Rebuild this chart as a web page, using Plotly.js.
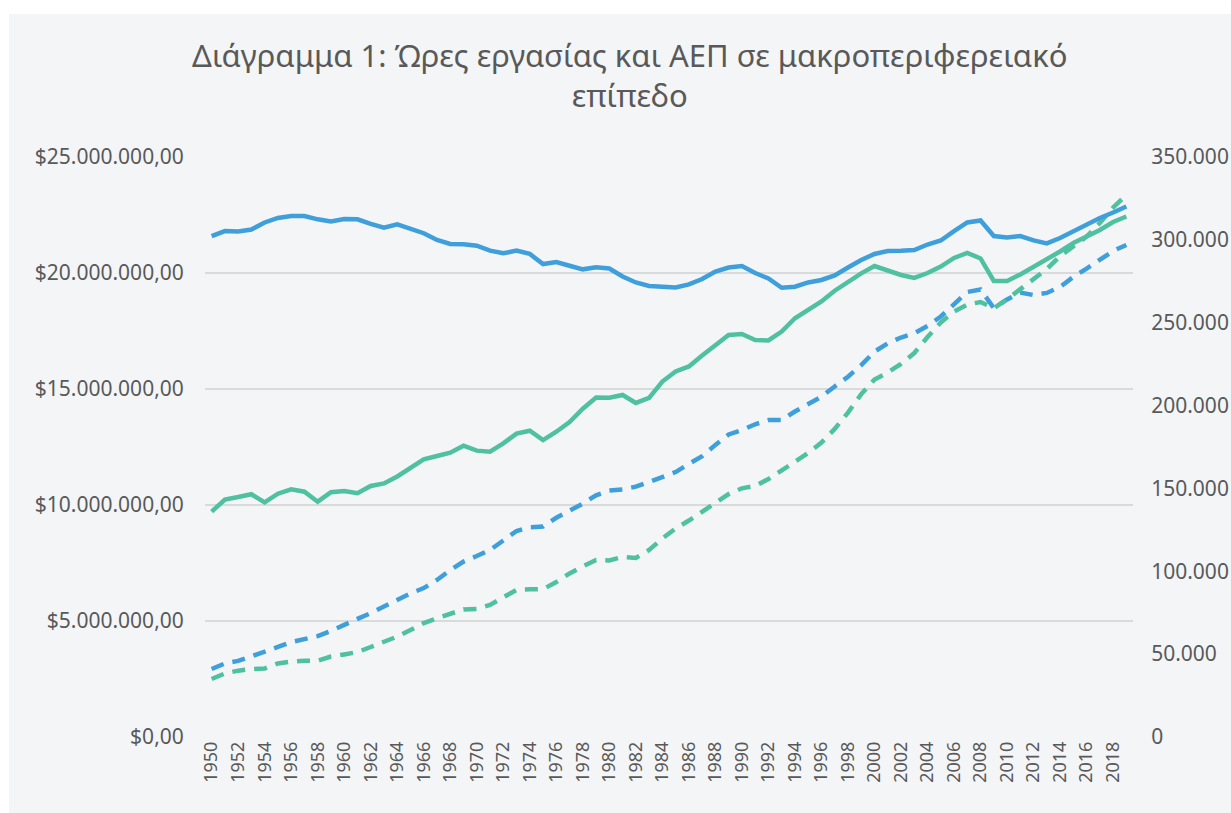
<!DOCTYPE html>
<html>
<head>
<meta charset="utf-8">
<script src="https://cdn.plot.ly/plotly-3.0.1.min.js"></script>
<style>
  html, body { margin: 0; padding: 0; background: #ffffff; }
  #chart { position: absolute; left: 9px; top: 14px; width: 1222px; height: 799px; }
</style>
</head>
<body>
<div id="chart"></div>
<script>
const years = [];
for (let y = 1950; y <= 2019; y++) years.push(String(y));

const tickYears = ["1950","1952","1954","1956","1958","1960","1962","1964","1966","1968",
  "1970","1972","1974","1976","1978","1980","1982","1984","1986","1988","1990","1992",
  "1994","1996","1998","2000","2002","2004","2006","2008","2010","2012","2014","2016","2018"];

// Solid lines (right axis)
const hoursBlue = [302300,305300,305000,306250,310500,313200,314400,314400,312400,311100,
  312600,312400,309600,307300,309400,306600,304000,299900,297500,297300,
  296500,293500,291900,293500,291500,285400,286600,284400,282200,283400,
  282700,277900,274300,272200,271400,271250,273100,276400,280900,283300,
  284200,280000,276700,271100,271700,274300,275800,278500,283300,287800,
  291500,293300,293500,293900,297200,299600,305300,310500,311700,302300,
  301500,302300,299700,297900,301100,305200,309100,313200,316500,320100];

const hoursGreen = [136000,143300,144800,146500,141600,146800,149500,148000,142000,147700,
  148400,147100,151500,153000,157200,162300,167500,169600,171600,175800,
  172800,172200,177200,183100,184800,179200,184200,190100,198100,204900,
  204700,206400,201600,204600,214500,220600,223600,230200,236700,242600,
  243200,239600,239300,244700,252700,257700,262800,269300,274800,279800,
  284200,281200,278800,277000,280000,283900,289100,292100,288800,275200,
  275200,279100,283600,287800,293000,298100,302000,306000,310800,314100];

// Dashed lines (left axis, $)
const gdpBlue = [2930000,3170000,3280000,3470000,3660000,3880000,4090000,4210000,4350000,4570000,
  4850000,5090000,5340000,5625000,5930000,6190000,6420000,6770000,7200000,7560000,
  7800000,8060000,8470000,8880000,9040000,9070000,9450000,9740000,10060000,10420000,
  10620000,10670000,10790000,10990000,11230000,11420000,11770000,12100000,12590000,13040000,
  13230000,13480000,13660000,13660000,14030000,14375000,14670000,15110000,15530000,16030000,
  16610000,16970000,17220000,17400000,17720000,18125000,18660000,19180000,19290000,18490000,
  18860000,19160000,19050000,19140000,19400000,19830000,20190000,20580000,20950000,21210000];

const gdpGreen = [2500000,2740000,2860000,2930000,2950000,3170000,3250000,3290000,3280000,3470000,
  3560000,3660000,3880000,4090000,4330000,4610000,4910000,5120000,5300000,5500000,
  5520000,5690000,6020000,6340000,6370000,6370000,6680000,7050000,7360000,7630000,
  7610000,7760000,7720000,8060000,8560000,8990000,9330000,9700000,10110000,10470000,
  10720000,10820000,11120000,11510000,11880000,12240000,12690000,13280000,13980000,14780000,
  15410000,15710000,16080000,16550000,17240000,17870000,18340000,18640000,18750000,18480000,
  18870000,19300000,19720000,20170000,20730000,21160000,21570000,22160000,22820000,23360000];

const BLUE = '#3f9fdb';
const GREEN = '#4fc1a0';
const TXT = '#595959';
const FONT = 'Noto Sans, DejaVu Sans, sans-serif';

const traces = [
  {x: years, y: hoursBlue, yaxis: 'y2', type: 'scatter', mode: 'lines',
   line: {color: BLUE, width: 4.5}, name: 'Ώρες 1'},
  {x: years, y: hoursGreen, yaxis: 'y2', type: 'scatter', mode: 'lines',
   line: {color: GREEN, width: 4.5}, name: 'Ώρες 2'},
  {x: years, y: gdpBlue, yaxis: 'y', type: 'scatter', mode: 'lines',
   line: {color: BLUE, width: 4.5, dash: '13px,9px'}, name: 'ΑΕΠ 1'},
  {x: years, y: gdpGreen, yaxis: 'y', type: 'scatter', mode: 'lines',
   line: {color: GREEN, width: 4.5, dash: '13px,9px'}, name: 'ΑΕΠ 2'}
];

const layout = {
  width: 1222, height: 799,
  paper_bgcolor: '#f3f5f7',
  plot_bgcolor: '#f3f5f7',
  separators: ',.',
  showlegend: false,
  margin: {l: 196, r: 98, t: 143, b: 76},
  font: {family: FONT, color: TXT},
  title: {
    text: 'Διάγραμμα 1: Ώρες εργασίας και ΑΕΠ σε μακροπεριφερειακό<br>επίπεδο',
    font: {family: FONT, size: 31, color: TXT},
    xref: 'container', x: 0.508, xanchor: 'center',
    yref: 'container', y: 0.934, yanchor: 'top'
  },
  xaxis: {
    type: 'category',
    range: [-0.5, 69.5],
    tickmode: 'array', tickvals: tickYears, ticktext: tickYears,
    tickangle: -90,
    tickfont: {family: FONT, size: 18, color: TXT},
    showgrid: false, zeroline: false, showline: false,
    ticks: '', ticklen: 0
  },
  yaxis: {
    range: [0, 25000000],
    tick0: 0, dtick: 5000000,
    tickformat: '$,.2f',
    tickfont: {family: FONT, size: 21, color: TXT},
    showgrid: true, gridcolor: '#d9dadc', gridwidth: 1.5,
    zeroline: false, showline: false,
    ticks: 'outside', ticklen: 16, tickcolor: 'rgba(0,0,0,0)'
  },
  yaxis2: {
    overlaying: 'y', side: 'right',
    range: [0, 350000],
    tick0: 0, dtick: 50000,
    tickformat: ',d',
    tickfont: {family: FONT, size: 21, color: TXT},
    showgrid: false, zeroline: false, showline: false,
    ticks: 'outside', ticklen: 13, tickcolor: 'rgba(0,0,0,0)'
  }
};

Plotly.newPlot('chart', traces, layout, {displayModeBar: false, staticPlot: true});
</script>
</body>
</html>
